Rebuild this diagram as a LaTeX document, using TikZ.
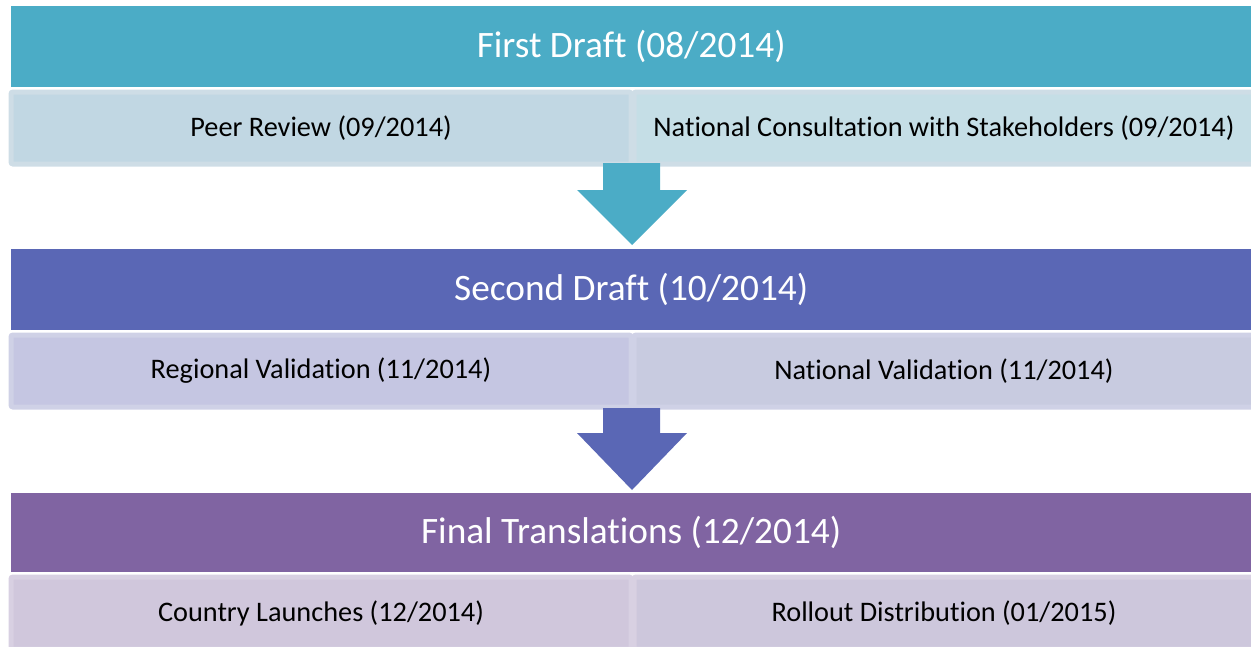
\documentclass[tikz,border=0pt]{standalone}
\usepackage{fontspec}
\setmainfont{Carlito}[Ligatures=NoCommon]
\definecolor{hA}{HTML}{4BACC6}
\definecolor{hB}{HTML}{5A67B5}
\definecolor{hC}{HTML}{8064A2}
\definecolor{sAl}{HTML}{C1D7E3}
\definecolor{sAr}{HTML}{C5DEE6}
\definecolor{sBl}{HTML}{C5C6E2}
\definecolor{sBr}{HTML}{C8CBE0}
\definecolor{sCl}{HTML}{D0C7DC}
\definecolor{sCr}{HTML}{CDC7DC}
\definecolor{bA}{HTML}{CEDDE6}
\definecolor{bB}{HTML}{CFD1E6}
\definecolor{bC}{HTML}{D8D0E2}
\tikzset{
  header/.style={fill=#1, draw=none, minimum width=1240pt, minimum height=81pt, inner sep=0pt, anchor=north west, text=white, font=\fontsize{37.3}{44}\selectfont},
  subbox/.style n args={2}{fill=#1, draw=#2, line width=5pt, rounded corners=2pt, minimum width=620pt, minimum height=72pt, inner sep=0pt, anchor=north west, text=black, font=\fontsize{28.3}{33}\selectfont},
}
\begin{document}
\begin{tikzpicture}[x=1pt,y=-1pt]
\useasboundingbox (0,0) rectangle (1251,646);
% Row 1
\node[header=hA] (h1) at (11,6) {First Draft (08/2014)};
\node[subbox={sAl}{bA}] (s1l) at (8.5,89.5) {Peer Review (09/2014)};
\node[subbox={sAr}{bA}] (s1r) at (631.5,89.5) {National Consultation with Stakeholders (09/2014)};
% Arrow 1
\fill[hA] (603,163) -- (660,163) -- (660,190) -- (687,190) -- (632,245) -- (577,190) -- (603,190) -- cycle;
% Row 2
\node[header=hB] (h2) at (11,249) {Second Draft (10/2014)};
\node[subbox={sBl}{bB}] (s2l) at (8.5,332.5) {Regional Validation (11/2014)};
\node[subbox={sBr}{bB}] (s2r) at (631.5,332.5) {National Validation (11/2014)};
% Arrow 2
\fill[hB] (603,408) -- (660,408) -- (660,433) -- (687,433) -- (632,490) -- (577,433) -- (603,433) -- cycle;
% Row 3
\node[header=hC, minimum height=79pt] (h3) at (11,493) {Final Translations (12/2014)};
\node[subbox={sCl}{bC}] (s3l) at (8.5,574.5) {Country Launches (12/2014)};
\node[subbox={sCr}{bC}] (s3r) at (631.5,574.5) {Rollout Distribution (01/2015)};
\end{tikzpicture}
\end{document}
